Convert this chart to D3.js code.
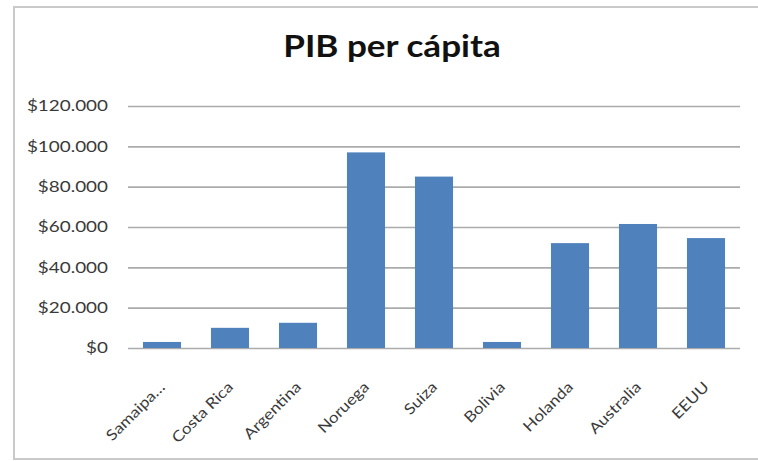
<!DOCTYPE html>
<html>
<head>
<meta charset="utf-8">
<script src="https://cdn.jsdelivr.net/npm/d3@7"></script>
<style>
  html, body { margin: 0; padding: 0; background: #fff; overflow: hidden; }
  svg { display: block; }
</style>
</head>
<body>
<svg id="chart" width="758" height="461"></svg>
<script>
const categories = ["Samaipa…", "Costa Rica", "Argentina", "Noruega", "Suiza", "Bolivia", "Holanda", "Australia", "EEUU"];
const values = [3000, 10000, 12500, 97000, 85000, 3000, 52000, 61500, 54500];
const yTicks = [0, 20000, 40000, 60000, 80000, 100000, 120000];
const title = "PIB per cápita";

const svg = d3.select("#chart");
const W = 758, H = 461;
const margin = { left: 128, right: 18, top: 106, bottom: 113 };
const FONT = "Lato, 'Open Sans', sans-serif";

svg.append("rect").attr("width", W).attr("height", H).attr("fill", "#fff");
// chart frame: left, top and bottom edges (right edge is cut off)
svg.append("path")
  .attr("d", `M${W},7 H14 V459 H${W}`)
  .attr("fill", "none").attr("stroke", "#c9c9c9").attr("stroke-width", 2);

const x = d3.scaleBand().domain(categories)
  .range([margin.left, W - margin.right]).paddingInner(0.44).paddingOuter(0.22);
const y = d3.scaleLinear().domain([0, 120000]).range([H - margin.bottom, margin.top]);

// grid + y labels
const fmt = v => "$" + d3.format(",")(v).replace(/,/g, ".");
const yAxis = d3.axisLeft(y).tickValues(yTicks).tickFormat(fmt)
  .tickSize(-(W - margin.right - margin.left)).tickPadding(0);
const gy = svg.append("g").attr("transform", `translate(${margin.left},0)`).call(yAxis);
gy.select(".domain").remove();
gy.selectAll(".tick line").attr("stroke", "#ababab").attr("stroke-width", 1.6);
const sY = 1.26;
gy.selectAll(".tick text")
  .attr("font-family", FONT)
  .attr("font-size", 15).attr("fill", "#3a3a3a")
  .attr("x", -20 / sY)
  .attr("transform", `scale(${sY},1)`);

// bars
svg.append("g").selectAll("rect").data(values).join("rect")
  .attr("x", (d, i) => x(categories[i]))
  .attr("width", x.bandwidth())
  .attr("y", d => y(d))
  .attr("height", d => y(0) - y(d))
  .attr("fill", "#4f81bd");

// x axis labels (rotated)
const xAxis = d3.axisBottom(x).tickSize(0).tickPadding(0);
const gx = svg.append("g").attr("transform", `translate(0,${y(0)})`).call(xAxis);
gx.select(".domain").remove();
gx.selectAll(".tick text")
  .attr("font-family", FONT)
  .attr("font-size", 15).attr("fill", "#3a3a3a")
  .attr("text-anchor", "end")
  .attr("y", 0)
  .attr("dy", 0)
  .attr("transform", "translate(4,40) rotate(-45) scale(1.15,1)");

// title
svg.append("text")
  .attr("transform", "translate(392,57) scale(1.17,1)")
  .attr("text-anchor", "middle")
  .attr("font-family", FONT)
  .attr("font-weight", "bold")
  .attr("font-size", 30).attr("fill", "#111")
  .text(title);
</script>
</body>
</html>
